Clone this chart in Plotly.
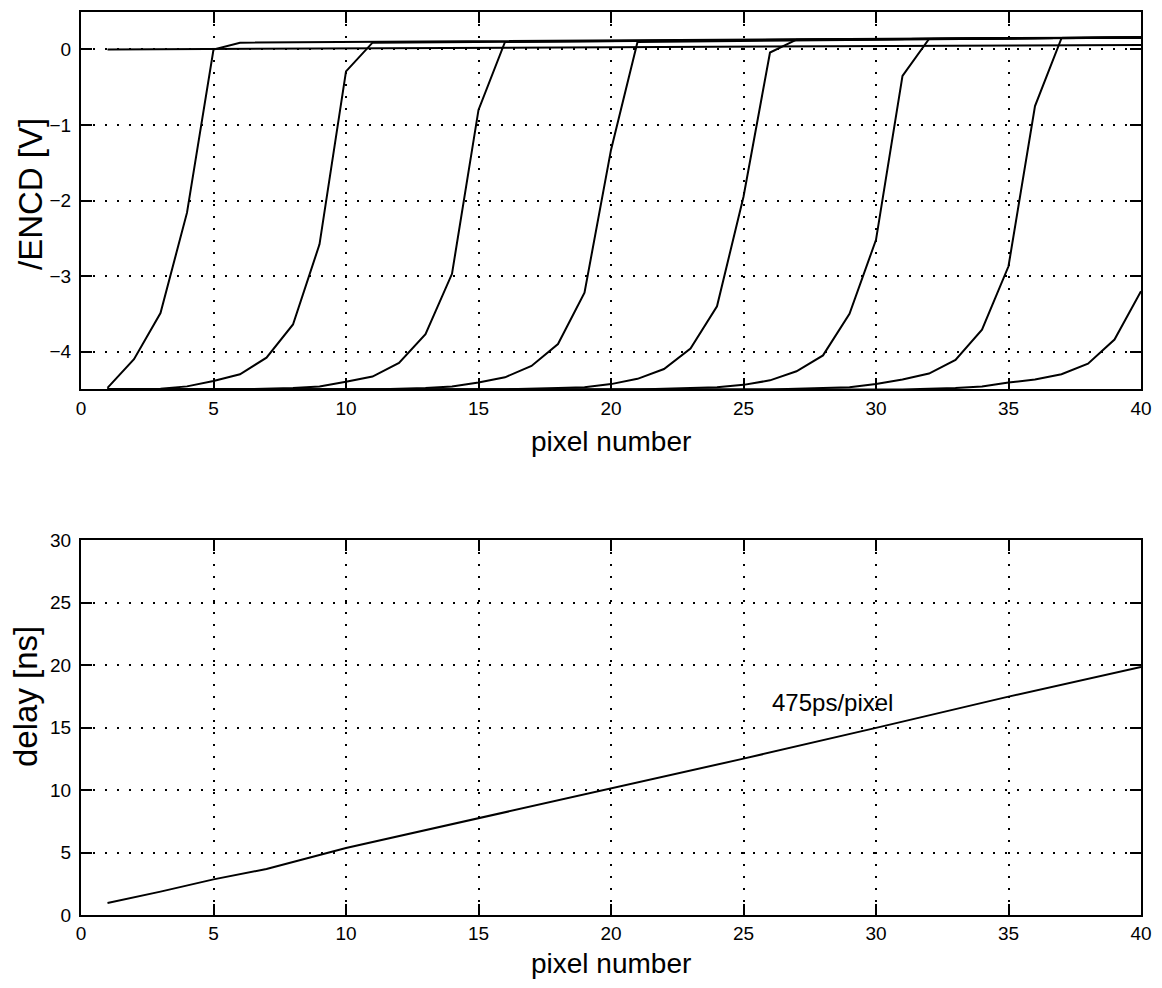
import plotly.graph_objects as go

# ---------------- data: top panel (/ENCD vs pixel number) ----------------
c1_x = [1, 2, 3, 4, 5, 6, 40]
c1_y = [-4.48, -4.10, -3.49, -2.16, 0.00, 0.09, 0.16]

c2_x = [1, 3, 4, 5, 6, 7, 8, 9, 10, 11, 40]
c2_y = [-4.50, -4.49, -4.46, -4.39, -4.30, -4.08, -3.64, -2.58, -0.29, 0.09, 0.16]

c3_x = [1, 6, 8, 9, 10, 11, 12, 13, 14, 15, 16, 40]
c3_y = [-4.50, -4.50, -4.48, -4.46, -4.40, -4.33, -4.15, -3.77, -2.97, -0.80, 0.10, 0.16]

c4_x = [1, 11, 13, 14, 15, 16, 17, 18, 19, 20, 21, 40]
c4_y = [-4.50, -4.50, -4.48, -4.46, -4.41, -4.34, -4.19, -3.90, -3.22, -1.33, 0.10, 0.16]

c5_x = [1, 16, 18, 19, 20, 21, 22, 23, 24, 25, 26, 27, 40]
c5_y = [-4.50, -4.50, -4.48, -4.47, -4.43, -4.36, -4.23, -3.96, -3.40, -1.95, -0.04, 0.13, 0.16]

c6_x = [1, 21, 23, 24, 25, 26, 27, 28, 29, 30, 31, 32, 40]
c6_y = [-4.50, -4.50, -4.48, -4.47, -4.44, -4.38, -4.26, -4.05, -3.50, -2.52, -0.35, 0.14, 0.16]

c7_x = [1, 26, 28, 29, 30, 31, 32, 33, 34, 35, 36, 37, 40]
c7_y = [-4.50, -4.50, -4.48, -4.47, -4.43, -4.37, -4.29, -4.11, -3.71, -2.87, -0.75, 0.15, 0.16]

c8_x = [1, 31, 33, 34, 35, 36, 37, 38, 39, 40]
c8_y = [-4.50, -4.50, -4.48, -4.46, -4.41, -4.37, -4.30, -4.16, -3.84, -3.20]

base_x = [1, 40]
base_y = [0.00, 0.06]

# ---------------- data: bottom panel (delay vs pixel number) ----------------
delay_x = [1, 3, 5, 7, 10, 15, 20, 25, 30, 35, 40]
delay_y = [0.96, 1.87, 2.85, 3.68, 5.36, 7.75, 10.10, 12.51, 14.97, 17.47, 19.84]

annot_text = "475ps/pixel"
annot_x = 26.0
annot_y = 17.0

x_ticks = [0, 5, 10, 15, 20, 25, 30, 35, 40]
top_y_ticks = [-4, -3, -2, -1, 0]
bot_y_ticks = [0, 5, 10, 15, 20, 25, 30]

FONT = "Liberation Sans, Arial, Helvetica, sans-serif"
LINE = dict(color="black", width=2)

# page body has an 8px margin; figure sized to fit the 1162x988 window
W, H = 1146, 972

fig = go.Figure()

top_curves = [(c1_x, c1_y), (c2_x, c2_y), (c3_x, c3_y), (c4_x, c4_y),
              (c5_x, c5_y), (c6_x, c6_y), (c7_x, c7_y), (c8_x, c8_y),
              (base_x, base_y)]
for cx, cy in top_curves:
    fig.add_trace(go.Scatter(x=cx, y=cy, mode="lines", line=LINE,
                             xaxis="x", yaxis="y", showlegend=False))

fig.add_trace(go.Scatter(x=delay_x, y=delay_y, mode="lines", line=LINE,
                         xaxis="x2", yaxis="y2", showlegend=False))

fig.add_annotation(x=annot_x, y=annot_y, xref="x2", yref="y2",
                   text=annot_text, showarrow=False, xanchor="left",
                   yanchor="middle",
                   font=dict(family=FONT, size=24, color="black"))

ytitle_font = dict(family=FONT, size=33, color="black")
fig.add_annotation(x=23 / W, y=1 - 186 / H, xref="paper", yref="paper",
                   text="/ENCD [V]", textangle=-90, showarrow=False,
                   xanchor="center", yanchor="middle", font=ytitle_font)
fig.add_annotation(x=17 / W, y=1 - 689 / H, xref="paper", yref="paper",
                   text="delay [ns]", textangle=-90, showarrow=False,
                   xanchor="center", yanchor="middle", font=ytitle_font)

xtitle_font = dict(family=FONT, size=28, color="black")
xc = (73 + 1133) / 2 / W
fig.add_annotation(x=xc, y=1 - 433 / H, xref="paper", yref="paper",
                   text="pixel number", showarrow=False, borderpad=0,
                   xanchor="center", yanchor="middle", font=xtitle_font)
fig.add_annotation(x=xc, y=0, xref="paper", yref="paper",
                   text="pixel number", showarrow=False, borderpad=0,
                   xanchor="center", yanchor="bottom", font=xtitle_font)

common_axis = dict(
    showline=True, linecolor="black", linewidth=2, mirror="ticks",
    ticks="inside", ticklen=11, tickwidth=1.5, tickcolor="black",
    showgrid=True, gridcolor="black", gridwidth=1.5, griddash="2px,10px",
    zeroline=False, automargin=False,
    tickfont=dict(family=FONT, size=19, color="black"),
)

xd = [73 / W, 1133 / W]

fig.update_layout(
    width=W, height=H,
    margin=dict(l=0, r=0, t=0, b=0),
    paper_bgcolor="white", plot_bgcolor="white",
    showlegend=False,
    xaxis=dict(domain=xd, range=[0, 40], tickvals=x_ticks, anchor="y",
               ticklabelstandoff=1, **common_axis),
    yaxis=dict(domain=[1 - 381.4 / H, 1 - 3.7 / H], range=[-4.5, 0.5],
               tickvals=top_y_ticks, anchor="x",
               ticklabelstandoff=4, **common_axis),
    xaxis2=dict(domain=xd, range=[0, 40], tickvals=x_ticks, anchor="y2",
                ticklabelstandoff=0, **common_axis),
    yaxis2=dict(domain=[1 - 907 / H, 1 - 532 / H], range=[0, 30],
                tickvals=bot_y_ticks, anchor="x2",
                ticklabelstandoff=4, **common_axis),
)

fig.write_html("out.html")
